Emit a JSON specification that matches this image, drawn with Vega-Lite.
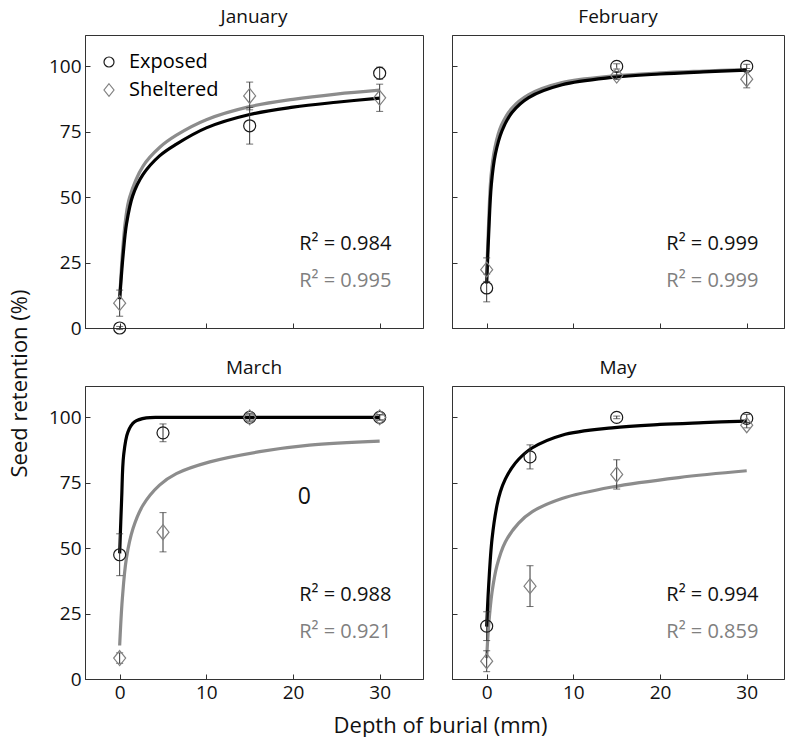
{
  "$schema": "https://vega.github.io/schema/vega-lite/v6.json",
  "padding": {"left": 7, "top": 7, "right": 0, "bottom": 0},
  "bounds": "flush",
  "columns": 2,
  "spacing": {"row": 58, "column": 29},
  "datasets": {
    "fit": [
      {"month":"January","series":"Exposed","depth":0,"y":11},
      {"month":"January","series":"Exposed","depth":0.4,"y":28},
      {"month":"January","series":"Exposed","depth":0.8,"y":40},
      {"month":"January","series":"Exposed","depth":1.5,"y":50.5},
      {"month":"January","series":"Exposed","depth":2.7,"y":58.7},
      {"month":"January","series":"Exposed","depth":4.6,"y":65.8},
      {"month":"January","series":"Exposed","depth":6.5,"y":70.2},
      {"month":"January","series":"Exposed","depth":10,"y":76.5},
      {"month":"January","series":"Exposed","depth":15,"y":81.6},
      {"month":"January","series":"Exposed","depth":20,"y":84.4},
      {"month":"January","series":"Exposed","depth":25,"y":86.3},
      {"month":"January","series":"Exposed","depth":30,"y":87.9},
      {"month":"January","series":"Sheltered","depth":0,"y":11},
      {"month":"January","series":"Sheltered","depth":0.35,"y":30},
      {"month":"January","series":"Sheltered","depth":0.7,"y":42},
      {"month":"January","series":"Sheltered","depth":1.15,"y":50},
      {"month":"January","series":"Sheltered","depth":2.7,"y":61.9},
      {"month":"January","series":"Sheltered","depth":4.6,"y":69},
      {"month":"January","series":"Sheltered","depth":6.5,"y":73.6},
      {"month":"January","series":"Sheltered","depth":10,"y":79.6},
      {"month":"January","series":"Sheltered","depth":15,"y":84.6},
      {"month":"January","series":"Sheltered","depth":20,"y":87.4},
      {"month":"January","series":"Sheltered","depth":25,"y":89.4},
      {"month":"January","series":"Sheltered","depth":30,"y":90.9},
      {"month":"February","series":"Exposed","depth":0,"y":17},
      {"month":"February","series":"Exposed","depth":0.23,"y":35.8},
      {"month":"February","series":"Exposed","depth":0.54,"y":54.9},
      {"month":"February","series":"Exposed","depth":1.0,"y":66.4},
      {"month":"February","series":"Exposed","depth":1.77,"y":75.4},
      {"month":"February","series":"Exposed","depth":2.92,"y":82.4},
      {"month":"February","series":"Exposed","depth":4.85,"y":88.1},
      {"month":"February","series":"Exposed","depth":8.7,"y":93},
      {"month":"February","series":"Exposed","depth":14.5,"y":95.8},
      {"month":"February","series":"Exposed","depth":20,"y":97.1},
      {"month":"February","series":"Exposed","depth":25,"y":97.9},
      {"month":"February","series":"Exposed","depth":30,"y":98.6},
      {"month":"February","series":"Sheltered","depth":0,"y":20},
      {"month":"February","series":"Sheltered","depth":0.2,"y":38},
      {"month":"February","series":"Sheltered","depth":0.5,"y":58},
      {"month":"February","series":"Sheltered","depth":0.95,"y":69},
      {"month":"February","series":"Sheltered","depth":1.7,"y":77.5},
      {"month":"February","series":"Sheltered","depth":2.9,"y":84},
      {"month":"February","series":"Sheltered","depth":4.85,"y":89.2},
      {"month":"February","series":"Sheltered","depth":8.7,"y":93.8},
      {"month":"February","series":"Sheltered","depth":14.5,"y":96.3},
      {"month":"February","series":"Sheltered","depth":20,"y":97.5},
      {"month":"February","series":"Sheltered","depth":25,"y":98.2},
      {"month":"February","series":"Sheltered","depth":30,"y":98.8},
      {"month":"March","series":"Exposed","depth":0,"y":48},
      {"month":"March","series":"Exposed","depth":0.23,"y":69},
      {"month":"March","series":"Exposed","depth":0.46,"y":85.6},
      {"month":"March","series":"Exposed","depth":0.96,"y":94.5},
      {"month":"March","series":"Exposed","depth":1.73,"y":98.3},
      {"month":"March","series":"Exposed","depth":3.08,"y":99.8},
      {"month":"March","series":"Exposed","depth":5,"y":100},
      {"month":"March","series":"Exposed","depth":10,"y":100},
      {"month":"March","series":"Exposed","depth":20,"y":100},
      {"month":"March","series":"Exposed","depth":30,"y":100},
      {"month":"March","series":"Sheltered","depth":0,"y":12.8},
      {"month":"March","series":"Sheltered","depth":0.31,"y":30.7},
      {"month":"March","series":"Sheltered","depth":0.77,"y":46},
      {"month":"March","series":"Sheltered","depth":1.54,"y":57.5},
      {"month":"March","series":"Sheltered","depth":2.69,"y":66.4},
      {"month":"March","series":"Sheltered","depth":4.6,"y":74.1},
      {"month":"March","series":"Sheltered","depth":6.54,"y":78.5},
      {"month":"March","series":"Sheltered","depth":10.4,"y":83},
      {"month":"March","series":"Sheltered","depth":16.15,"y":86.9},
      {"month":"March","series":"Sheltered","depth":21.9,"y":89.4},
      {"month":"March","series":"Sheltered","depth":30,"y":90.9},
      {"month":"May","series":"Exposed","depth":0,"y":20},
      {"month":"May","series":"Exposed","depth":0.23,"y":35.7},
      {"month":"May","series":"Exposed","depth":0.62,"y":53.6},
      {"month":"May","series":"Exposed","depth":1.19,"y":66.4},
      {"month":"May","series":"Exposed","depth":1.58,"y":71.6},
      {"month":"May","series":"Exposed","depth":2.15,"y":76.4},
      {"month":"May","series":"Exposed","depth":2.88,"y":80.6},
      {"month":"May","series":"Exposed","depth":3.69,"y":84},
      {"month":"May","series":"Exposed","depth":5.23,"y":88.3},
      {"month":"May","series":"Exposed","depth":8.69,"y":93.2},
      {"month":"May","series":"Exposed","depth":14.46,"y":96},
      {"month":"May","series":"Exposed","depth":20,"y":97.3},
      {"month":"May","series":"Exposed","depth":25,"y":98},
      {"month":"May","series":"Exposed","depth":30,"y":98.6},
      {"month":"May","series":"Sheltered","depth":0,"y":8},
      {"month":"May","series":"Sheltered","depth":0.23,"y":20.4},
      {"month":"May","series":"Sheltered","depth":0.62,"y":33.2},
      {"month":"May","series":"Sheltered","depth":1.19,"y":43.4},
      {"month":"May","series":"Sheltered","depth":2.15,"y":52.4},
      {"month":"May","series":"Sheltered","depth":3.69,"y":59.6},
      {"month":"May","series":"Sheltered","depth":5.23,"y":63.9},
      {"month":"May","series":"Sheltered","depth":8.69,"y":69},
      {"month":"May","series":"Sheltered","depth":14.46,"y":73.4},
      {"month":"May","series":"Sheltered","depth":22.15,"y":77},
      {"month":"May","series":"Sheltered","depth":30,"y":79.6}
    ],
    "pts": [
      {"month":"January","depth":0,"series":"Exposed","mean":0,"err":0.6},
      {"month":"January","depth":0,"series":"Sheltered","mean":9.5,"err":5},
      {"month":"January","depth":15,"series":"Exposed","mean":77.3,"err":7},
      {"month":"January","depth":15,"series":"Sheltered","mean":88.7,"err":5.3},
      {"month":"January","depth":30,"series":"Exposed","mean":97.4,"err":2.3},
      {"month":"January","depth":30,"series":"Sheltered","mean":88,"err":5.2},
      {"month":"February","depth":0,"series":"Exposed","mean":15.3,"err":5.3},
      {"month":"February","depth":0,"series":"Sheltered","mean":22.3,"err":4.5},
      {"month":"February","depth":15,"series":"Exposed","mean":100,"err":1},
      {"month":"February","depth":15,"series":"Sheltered","mean":96.5,"err":1.5},
      {"month":"February","depth":30,"series":"Exposed","mean":100,"err":0.8},
      {"month":"February","depth":30,"series":"Sheltered","mean":95.1,"err":3.3},
      {"month":"March","depth":0,"series":"Exposed","mean":47.5,"err":8},
      {"month":"March","depth":0,"series":"Sheltered","mean":8,"err":2},
      {"month":"March","depth":5,"series":"Exposed","mean":94.1,"err":3.4},
      {"month":"March","depth":5,"series":"Sheltered","mean":56.1,"err":7.5},
      {"month":"March","depth":15,"series":"Exposed","mean":100,"err":1.5},
      {"month":"March","depth":15,"series":"Sheltered","mean":100,"err":1},
      {"month":"March","depth":30,"series":"Exposed","mean":100,"err":1},
      {"month":"March","depth":30,"series":"Sheltered","mean":100,"err":1},
      {"month":"May","depth":0,"series":"Exposed","mean":20.2,"err":5.5},
      {"month":"May","depth":0,"series":"Sheltered","mean":6.8,"err":4},
      {"month":"May","depth":5,"series":"Exposed","mean":84.9,"err":4.6},
      {"month":"May","depth":5,"series":"Sheltered","mean":35.5,"err":7.8},
      {"month":"May","depth":15,"series":"Exposed","mean":100,"err":0.5},
      {"month":"May","depth":15,"series":"Sheltered","mean":78.2,"err":5.6},
      {"month":"May","depth":30,"series":"Exposed","mean":99.6,"err":1.5},
      {"month":"May","depth":30,"series":"Sheltered","mean":97,"err":1}
    ],
    "r2": [
      {"month":"January","series":"Exposed","label":"R² = 0.984"},
      {"month":"January","series":"Sheltered","label":"R² = 0.995"},
      {"month":"February","series":"Exposed","label":"R² = 0.999"},
      {"month":"February","series":"Sheltered","label":"R² = 0.999"},
      {"month":"March","series":"Exposed","label":"R² = 0.988"},
      {"month":"March","series":"Sheltered","label":"R² = 0.921"},
      {"month":"May","series":"Exposed","label":"R² = 0.994"},
      {"month":"May","series":"Sheltered","label":"R² = 0.859"}
    ]
  },
  "concat": [
    {
      "width": 338, "height": 293,
      "title": "January",
      "layer": [
        {"data": {"name": "fit"}, "transform": [{"filter": "datum.month === 'January' && datum.series === 'Sheltered'"}],
         "mark": {"type": "line", "strokeWidth": 3.2, "interpolate": "catmull-rom", "color": "#8c8c8c"},
         "encoding": {
           "x": {"field": "depth", "type": "quantitative", "scale": {"domain": [-4, 35], "nice": false, "zero": false}, "axis": {"values": [0,10,20,30], "labels": false, "title": null}},
           "y": {"field": "y", "type": "quantitative", "title": "Seed retention (%)", "scale": {"domain": [0, 112], "nice": false}, "axis": {"values": [0,25,50,75,100], "title": "Seed retention (%)", "titleX": -66, "titleY": 348, "titleAlign": "center", "titleBaseline": "middle"}}}},
        {"data": {"name": "fit"}, "transform": [{"filter": "datum.month === 'January' && datum.series === 'Exposed'"}],
         "mark": {"type": "line", "strokeWidth": 3.2, "interpolate": "catmull-rom", "color": "#000000"},
         "encoding": {"x": {"field": "depth", "type": "quantitative"}, "y": {"field": "y", "type": "quantitative", "title": "Seed retention (%)"}}},
        {"data": {"name": "pts"}, "transform": [{"filter": "datum.month === 'January'"}],
         "mark": {"type": "errorbar", "color": "#333333", "thickness": 1, "ticks": {"size": 7}},
         "encoding": {"x": {"field": "depth", "type": "quantitative"}, "y": {"field": "mean", "type": "quantitative", "title": "Seed retention (%)"}, "yError": {"field": "err"}}},
        {"data": {"name": "pts"}, "transform": [{"filter": "datum.month === 'January'"}],
         "mark": {"type": "point", "filled": false, "size": 144, "strokeWidth": 1.2, "opacity": 1},
         "encoding": {"x": {"field": "depth", "type": "quantitative"}, "y": {"field": "mean", "type": "quantitative", "title": "Seed retention (%)"},
           "shape": {"field": "series", "type": "nominal", "scale": {"domain": ["Exposed","Sheltered"], "range": ["circle", "M0,-1.25L1,0L0,1.25L-1,0Z"]},
             "legend": {"title": null, "orient": "none", "legendX": 14, "legendY": 17, "padding": 0, "rowPadding": 8, "symbolSize": 100, "symbolStrokeWidth": 1.2, "labelFontSize": 20, "labelOffset": 10,
               "encode": {"labels": {"update": {"fill": {"signal": "datum.value === 'Sheltered' ? '#808080' : '#111111'"}}}}}},
           "stroke": {"field": "series", "type": "nominal", "scale": {"domain": ["Exposed","Sheltered"], "range": ["#1a1a1a", "#808080"]},
             "legend": {"title": null, "orient": "none", "legendX": 14, "legendY": 17, "padding": 0, "rowPadding": 8, "symbolSize": 100, "symbolStrokeWidth": 1.2, "labelFontSize": 20, "labelOffset": 10,
               "encode": {"labels": {"update": {"fill": {"signal": "datum.value === 'Sheltered' ? '#808080' : '#111111'"}}}}}}}},
        {"data": {"name": "r2"}, "transform": [{"filter": "datum.month === 'January' && datum.series === 'Exposed'"}],
         "mark": {"type": "text", "align": "right", "baseline": "middle", "fontSize": 20, "color": "#111111"},
         "encoding": {"x": {"datum": 31.35}, "y": {"datum": 32.2}, "text": {"field": "label"}}},
        {"data": {"name": "r2"}, "transform": [{"filter": "datum.month === 'January' && datum.series === 'Sheltered'"}],
         "mark": {"type": "text", "align": "right", "baseline": "middle", "fontSize": 20, "color": "#808080"},
         "encoding": {"x": {"datum": 31.35}, "y": {"datum": 18}, "text": {"field": "label"}}}
      ]
    },
    {
      "width": 332, "height": 293,
      "title": "February",
      "layer": [
        {"data": {"name": "fit"}, "transform": [{"filter": "datum.month === 'February' && datum.series === 'Sheltered'"}],
         "mark": {"type": "line", "strokeWidth": 3.2, "interpolate": "catmull-rom", "color": "#8c8c8c"},
         "encoding": {
           "x": {"field": "depth", "type": "quantitative", "scale": {"domain": [-4, 34.3], "nice": false, "zero": false}, "axis": {"values": [0,10,20,30], "labels": false, "title": null}},
           "y": {"field": "y", "type": "quantitative", "scale": {"domain": [0, 112], "nice": false}, "axis": {"values": [0,25,50,75,100], "labels": false, "title": null}}}},
        {"data": {"name": "fit"}, "transform": [{"filter": "datum.month === 'February' && datum.series === 'Exposed'"}],
         "mark": {"type": "line", "strokeWidth": 3.2, "interpolate": "catmull-rom", "color": "#000000"},
         "encoding": {"x": {"field": "depth", "type": "quantitative"}, "y": {"field": "y", "type": "quantitative"}}},
        {"data": {"name": "pts"}, "transform": [{"filter": "datum.month === 'February'"}],
         "mark": {"type": "errorbar", "color": "#333333", "thickness": 1, "ticks": {"size": 7}},
         "encoding": {"x": {"field": "depth", "type": "quantitative"}, "y": {"field": "mean", "type": "quantitative"}, "yError": {"field": "err"}}},
        {"data": {"name": "pts"}, "transform": [{"filter": "datum.month === 'February'"}],
         "mark": {"type": "point", "filled": false, "size": 144, "strokeWidth": 1.2, "opacity": 1},
         "encoding": {"x": {"field": "depth", "type": "quantitative"}, "y": {"field": "mean", "type": "quantitative"},
           "shape": {"field": "series", "type": "nominal"},
           "stroke": {"field": "series", "type": "nominal"}}},
        {"data": {"name": "r2"}, "transform": [{"filter": "datum.month === 'February' && datum.series === 'Exposed'"}],
         "mark": {"type": "text", "align": "right", "baseline": "middle", "fontSize": 20, "color": "#111111"},
         "encoding": {"x": {"datum": 31.35}, "y": {"datum": 32.2}, "text": {"field": "label"}}},
        {"data": {"name": "r2"}, "transform": [{"filter": "datum.month === 'February' && datum.series === 'Sheltered'"}],
         "mark": {"type": "text", "align": "right", "baseline": "middle", "fontSize": 20, "color": "#808080"},
         "encoding": {"x": {"datum": 31.35}, "y": {"datum": 18}, "text": {"field": "label"}}}
      ]
    },
    {
      "width": 338, "height": 293,
      "title": "March",
      "layer": [
        {"data": {"name": "fit"}, "transform": [{"filter": "datum.month === 'March' && datum.series === 'Sheltered'"}],
         "mark": {"type": "line", "strokeWidth": 3.2, "interpolate": "catmull-rom", "color": "#8c8c8c"},
         "encoding": {
           "x": {"field": "depth", "type": "quantitative", "title": "Depth of burial (mm)", "scale": {"domain": [-4, 35], "nice": false, "zero": false}, "axis": {"values": [0,10,20,30], "title": "Depth of burial (mm)", "titleX": 355, "titleY": 46, "titleBaseline": "middle", "titleAlign": "center"}},
           "y": {"field": "y", "type": "quantitative", "scale": {"domain": [0, 112], "nice": false}, "axis": {"values": [0,25,50,75,100], "title": null}}}},
        {"data": {"name": "fit"}, "transform": [{"filter": "datum.month === 'March' && datum.series === 'Exposed'"}],
         "mark": {"type": "line", "strokeWidth": 3.2, "interpolate": "catmull-rom", "color": "#000000"},
         "encoding": {"x": {"field": "depth", "type": "quantitative", "title": "Depth of burial (mm)"}, "y": {"field": "y", "type": "quantitative"}}},
        {"data": {"name": "pts"}, "transform": [{"filter": "datum.month === 'March'"}],
         "mark": {"type": "errorbar", "color": "#333333", "thickness": 1, "ticks": {"size": 7}},
         "encoding": {"x": {"field": "depth", "type": "quantitative", "title": "Depth of burial (mm)"}, "y": {"field": "mean", "type": "quantitative"}, "yError": {"field": "err"}}},
        {"data": {"name": "pts"}, "transform": [{"filter": "datum.month === 'March'"}],
         "mark": {"type": "point", "filled": false, "size": 144, "strokeWidth": 1.2, "opacity": 1},
         "encoding": {"x": {"field": "depth", "type": "quantitative", "title": "Depth of burial (mm)"}, "y": {"field": "mean", "type": "quantitative"},
           "shape": {"field": "series", "type": "nominal"},
           "stroke": {"field": "series", "type": "nominal"}}},
        {"data": {"name": "r2"}, "transform": [{"filter": "datum.month === 'March' && datum.series === 'Exposed'"}],
         "mark": {"type": "text", "align": "right", "baseline": "middle", "fontSize": 20, "color": "#111111"},
         "encoding": {"x": {"datum": 31.35}, "y": {"datum": 32.2}, "text": {"field": "label"}}},
        {"data": {"name": "r2"}, "transform": [{"filter": "datum.month === 'March' && datum.series === 'Sheltered'"}],
         "mark": {"type": "text", "align": "right", "baseline": "middle", "fontSize": 20, "color": "#808080"},
         "encoding": {"x": {"datum": 31.35}, "y": {"datum": 18}, "text": {"field": "label"}}},
        {"data": {"values": [{"note": "0"}]},
         "mark": {"type": "text", "align": "center", "baseline": "middle", "fontSize": 23, "color": "#111111"},
         "encoding": {"x": {"datum": 21.3}, "y": {"datum": 69.6}, "text": {"field": "note"}}}
      ]
    },
    {
      "width": 332, "height": 293,
      "title": "May",
      "layer": [
        {"data": {"name": "fit"}, "transform": [{"filter": "datum.month === 'May' && datum.series === 'Sheltered'"}],
         "mark": {"type": "line", "strokeWidth": 3.2, "interpolate": "catmull-rom", "color": "#8c8c8c"},
         "encoding": {
           "x": {"field": "depth", "type": "quantitative", "scale": {"domain": [-4, 34.3], "nice": false, "zero": false}, "axis": {"values": [0,10,20,30], "title": null}},
           "y": {"field": "y", "type": "quantitative", "scale": {"domain": [0, 112], "nice": false}, "axis": {"values": [0,25,50,75,100], "labels": false, "title": null}}}},
        {"data": {"name": "fit"}, "transform": [{"filter": "datum.month === 'May' && datum.series === 'Exposed'"}],
         "mark": {"type": "line", "strokeWidth": 3.2, "interpolate": "catmull-rom", "color": "#000000"},
         "encoding": {"x": {"field": "depth", "type": "quantitative"}, "y": {"field": "y", "type": "quantitative"}}},
        {"data": {"name": "pts"}, "transform": [{"filter": "datum.month === 'May'"}],
         "mark": {"type": "errorbar", "color": "#333333", "thickness": 1, "ticks": {"size": 7}},
         "encoding": {"x": {"field": "depth", "type": "quantitative"}, "y": {"field": "mean", "type": "quantitative"}, "yError": {"field": "err"}}},
        {"data": {"name": "pts"}, "transform": [{"filter": "datum.month === 'May'"}],
         "mark": {"type": "point", "filled": false, "size": 144, "strokeWidth": 1.2, "opacity": 1},
         "encoding": {"x": {"field": "depth", "type": "quantitative"}, "y": {"field": "mean", "type": "quantitative"},
           "shape": {"field": "series", "type": "nominal"},
           "stroke": {"field": "series", "type": "nominal"}}},
        {"data": {"name": "r2"}, "transform": [{"filter": "datum.month === 'May' && datum.series === 'Exposed'"}],
         "mark": {"type": "text", "align": "right", "baseline": "middle", "fontSize": 20, "color": "#111111"},
         "encoding": {"x": {"datum": 31.35}, "y": {"datum": 32.2}, "text": {"field": "label"}}},
        {"data": {"name": "r2"}, "transform": [{"filter": "datum.month === 'May' && datum.series === 'Sheltered'"}],
         "mark": {"type": "text", "align": "right", "baseline": "middle", "fontSize": 20, "color": "#808080"},
         "encoding": {"x": {"datum": 31.35}, "y": {"datum": 18}, "text": {"field": "label"}}}
      ]
    }
  ],
  "config": {
    "font": "Open Sans",
    "view": {"stroke": "#333333", "strokeWidth": 1},
    "axis": {"grid": false, "domainColor": "#333333", "tickColor": "#333333", "tickSize": -5, "labelFontSize": 19, "labelColor": "#111111", "labelPadding": 9, "titleFontSize": 22, "titleFontWeight": "normal", "titleColor": "#111111"},
    "title": {"fontSize": 19, "fontWeight": "normal", "color": "#111111", "offset": 8},
    "legend": {"labelFontSize": 20},
    "text": {"font": "Open Sans"}
  }
}
